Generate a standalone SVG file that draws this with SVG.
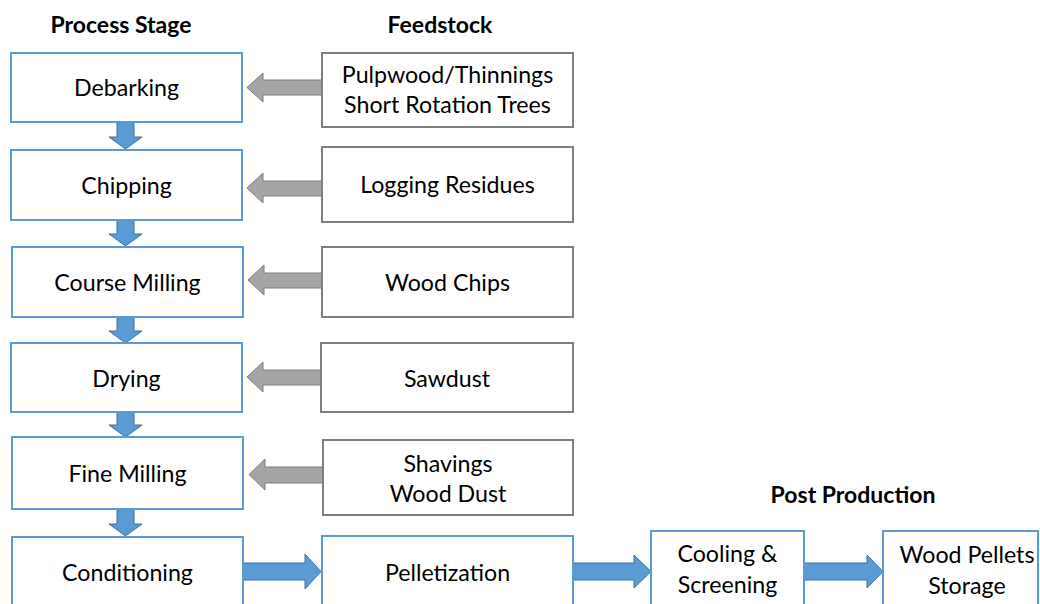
<svg xmlns="http://www.w3.org/2000/svg" width="1040" height="604" viewBox="0 0 1040 604">
<style>
.stage{fill:#fff;stroke:#5b9bd5;stroke-width:2}
.feed{fill:#fff;stroke:#7f7f7f;stroke-width:2}
.t{font-family:Lato,"Open Sans",sans-serif;font-size:23.2px;fill:#000;text-anchor:middle}
.h{font-family:Lato,"Open Sans",sans-serif;font-size:23px;font-weight:bold;fill:#000;text-anchor:middle}
.ba{fill:#5b9bd5;stroke:#41719c;stroke-width:1}
.ga{fill:#a5a5a5;stroke:#7f7f7f;stroke-width:1}
</style>
<rect width="1040" height="604" fill="#fff"/>
<g id="headers">
<text class="h" x="121" y="33">Process Stage</text>
<text class="h" x="440" y="33">Feedstock</text>
<text class="h" x="853" y="503">Post Production</text>
</g>
<g id="connectors">
<path class="ba" d="M117,122 H134 V137 H142 L125.5,149 L109,137 H117 Z"/>
<path class="ba" d="M117,220 H134 V234 H142 L125.5,246 L109,234 H117 Z"/>
<path class="ba" d="M117,317 H134 V331 H142 L125.5,343 L109,331 H117 Z"/>
<path class="ba" d="M117,412 H134 V425 H142 L125.5,437 L109,425 H117 Z"/>
<path class="ba" d="M117,509 H134 V524 H142 L125.5,536 L109,524 H117 Z"/>
<path class="ga" d="M322,80 H263 V73 L247,87.5 L263,102 V95 H322 Z"/>
<path class="ga" d="M322,181 H263 V173 L247,188 L263,203 V196 H322 Z"/>
<path class="ga" d="M322,273 H264 V265 L248,280 L264,295 V288 H322 Z"/>
<path class="ga" d="M321,370 H263 V362 L247,377 L263,392 V385 H321 Z"/>
<path class="ga" d="M323,467 H265 V459 L249,474.5 L265,490 V483 H323 Z"/>
<path class="ba" d="M243,563 H305 V554 L321,571.5 L305,589 V580 H243 Z"/>
<path class="ba" d="M573,563 H634 V555 L651,571.5 L634,588 V580 H573 Z"/>
<path class="ba" d="M804,563 H867 V555 L883,571.5 L867,588 V580 H804 Z"/>
</g>
<g id="debarking"><rect class="stage" x="11" y="53" width="231" height="69"/><text class="t" x="126.5" y="96">Debarking</text></g>
<g id="chipping"><rect class="stage" x="11" y="150" width="231" height="70"/><text class="t" x="126.5" y="194">Chipping</text></g>
<g id="course-milling"><rect class="stage" x="12" y="247" width="231" height="70"/><text class="t" x="127.5" y="291">Course Milling</text></g>
<g id="drying"><rect class="stage" x="11" y="343" width="231" height="69"/><text class="t" x="126.5" y="387">Drying</text></g>
<g id="fine-milling"><rect class="stage" x="12" y="437" width="231" height="72"/><text class="t" x="127.5" y="482">Fine Milling</text></g>
<g id="conditioning"><rect class="stage" x="12" y="537" width="231" height="80"/><text class="t" x="127.5" y="581">Conditioning</text></g>
<g id="pulpwood"><rect class="feed" x="322" y="53" width="251" height="74"/><text class="t" x="447.5" y="83">Pulpwood/Thinnings</text><text class="t" x="447.5" y="113">Short Rotation Trees</text></g>
<g id="logging-residues"><rect class="feed" x="322" y="147" width="251" height="75"/><text class="t" x="447.5" y="193">Logging Residues</text></g>
<g id="wood-chips"><rect class="feed" x="322" y="247" width="251" height="70"/><text class="t" x="447.5" y="291">Wood Chips</text></g>
<g id="sawdust"><rect class="feed" x="321" y="343" width="252" height="69"/><text class="t" x="447" y="387">Sawdust</text></g>
<g id="shavings"><rect class="feed" x="323" y="440" width="250" height="75"/><text class="t" x="448" y="472">Shavings</text><text class="t" x="448" y="502">Wood Dust</text></g>
<g id="pelletization"><rect class="stage" x="322" y="536" width="251" height="80"/><text class="t" x="447.5" y="581">Pelletization</text></g>
<g id="cooling-screening"><rect class="stage" x="651" y="531" width="153" height="85"/><text class="t" x="727.5" y="562">Cooling &amp;</text><text class="t" x="727.5" y="593">Screening</text></g>
<g id="wood-pellets-storage"><rect class="stage" x="883" y="531" width="155" height="85"/><text class="t" x="967" y="563">Wood Pellets</text><text class="t" x="967" y="594">Storage</text></g>
</svg>
